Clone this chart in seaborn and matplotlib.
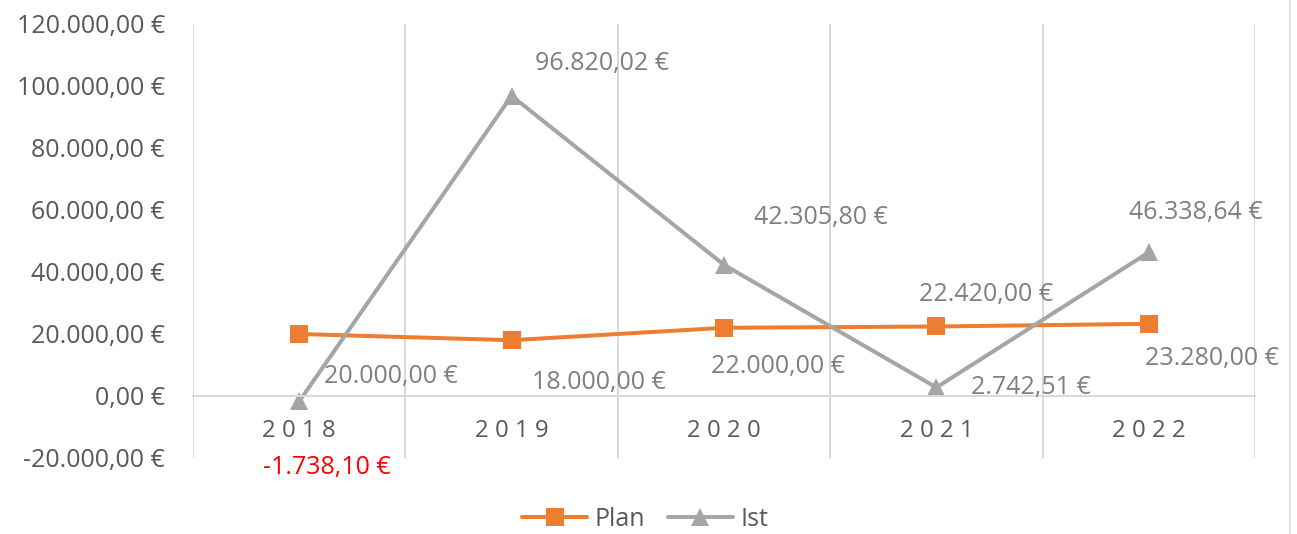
import pandas as pd
import matplotlib
matplotlib.use("Agg")
import matplotlib.pyplot as plt
import seaborn as sns
from matplotlib.lines import Line2D
from matplotlib.ticker import FuncFormatter, FixedLocator

# data
years = ["2018", "2019", "2020", "2021", "2022"]
plan = [20000.00, 18000.00, 22000.00, 22420.00, 23280.00]
ist = [-1738.10, 96820.02, 42305.80, 2742.51, 46338.64]
y_ticks = [-20000, 0, 20000, 40000, 60000, 80000, 100000, 120000]

# label offsets (points) relative to each marker
plan_offsets = [(92, -43), (87, -42), (54, -39), (50, 32), (63, -35)]
ist_offsets = [(28, -66), (90, 32), (97, 47), (95, 0), (47, 40)]

ORANGE = "#ED7D31"
GREY = "#A5A5A5"


def euro(v, pos=None):
    s = f"{v:,.2f}"
    s = s.replace(",", "X").replace(".", ",").replace("X", ".")
    return s + " €"


df = pd.DataFrame({
    "Jahr": years * 2,
    "Wert": plan + ist,
    "Reihe": ["Plan"] * len(years) + ["Ist"] * len(years),
})

sns.set_theme(style="white")
plt.rcParams["font.family"] = ["Open Sans", "DejaVu Sans"]

W, H = 1297, 534
fig = plt.figure(figsize=(W / 72, H / 72), dpi=72)
ax = fig.add_axes([193 / W, 1 - 458 / H, (1255 - 193) / W, (458 - 24) / H])

sns.lineplot(data=df, x="Jahr", y="Wert", hue="Reihe", style="Reihe",
             markers={"Plan": "s", "Ist": "^"}, dashes=False,
             palette={"Plan": ORANGE, "Ist": GREY},
             linewidth=4, markersize=18, markeredgewidth=0,
             ax=ax, legend=False)

ax.set_xlim(-0.5, len(years) - 0.5)
ax.set_ylim(-20000, 120000)
ax.set_yticks(y_ticks)
ax.yaxis.set_major_formatter(FuncFormatter(euro))
ax.set_xticks(range(len(years)))
ax.set_xticklabels([" ".join(y) for y in years])
ax.xaxis.set_minor_locator(FixedLocator([i - 0.5 for i in range(len(years) + 1)]))
ax.grid(False)
ax.grid(which="minor", axis="x", color="#D9D9D9", linewidth=2)
ax.tick_params(axis="y", length=0, pad=28, labelsize=25, labelcolor="#595959")
ax.tick_params(axis="x", which="both", length=0, pad=23, labelsize=24, labelcolor="#595959")
ax.set_xlabel("")
ax.set_ylabel("")

for s in ["top", "right", "left"]:
    ax.spines[s].set_visible(False)
ax.spines["bottom"].set_position(("data", 0))
ax.spines["bottom"].set_color("#D9D9D9")
ax.spines["bottom"].set_linewidth(2)

for i, v in enumerate(plan):
    ax.annotate(euro(v), (i, v), xytext=plan_offsets[i], textcoords="offset points",
                ha="center", va="center", fontsize=25, color="#7F7F7F")
for i, v in enumerate(ist):
    ax.annotate(euro(v), (i, v), xytext=ist_offsets[i], textcoords="offset points",
                ha="center", va="center", fontsize=25,
                color="#FF0000" if v < 0 else "#7F7F7F")

handles = [
    Line2D([], [], color=ORANGE, linewidth=4, marker="s", markersize=18, markeredgewidth=0),
    Line2D([], [], color=GREY, linewidth=4, marker="^", markersize=18, markeredgewidth=0),
]
leg = fig.legend(handles, ["Plan", "Ist"], loc="center", bbox_to_anchor=(645 / W, 1 - 519 / H),
                 ncol=2, frameon=False, fontsize=25, handlelength=2.6,
                 handletextpad=0.3, columnspacing=0.9)
for t in leg.get_texts():
    t.set_color("#595959")

# chart border on the right edge
fig.add_artist(Line2D([1290 / W, 1290 / W], [0, 1], color="#D9D9D9", linewidth=1.5))

fig.savefig("out.png", dpi=72)
